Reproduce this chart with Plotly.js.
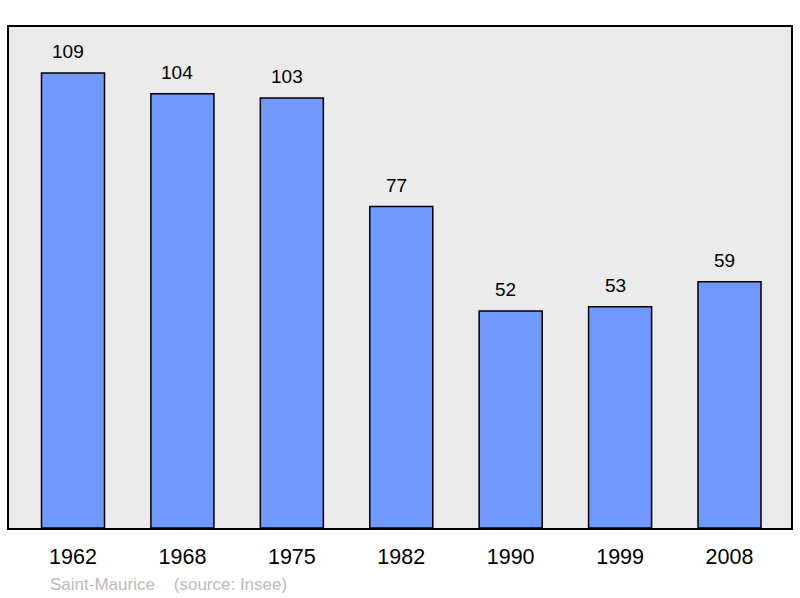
<!DOCTYPE html>
<html>
<head>
<meta charset="utf-8">
<script src="https://cdn.plot.ly/plotly-3.0.1.min.js"></script>
<style>html,body{margin:0;padding:0;background:#fff;}#chart{width:800px;height:598px;}</style>
</head>
<body>
<div id="chart"></div>
<script>
const years = ["1962", "1968", "1975", "1982", "1990", "1999", "2008"];
const population = [109, 104, 103, 77, 52, 53, 59];
const townName = "Saint-Maurice";
const sourceText = "(source: Insee)";

const trace = {
  type: 'bar',
  x: years,
  y: population,
  width: 0.576,
  marker: {color: '#7099ff', line: {color: '#000', width: 1.5}},
  hoverinfo: 'none'
};

const annotations = years.map((yr, i) => ({
  x: i, y: population[i], xref: 'x', yref: 'y',
  text: String(population[i]), showarrow: false,
  yanchor: 'bottom', yshift: 9, xshift: -5,
  font: {family: 'Liberation Sans, Arial, sans-serif', size: 19, color: '#000'}
}));
annotations.push({
  xref: 'paper', yref: 'paper', x: 39/782, y: -0.112,
  xanchor: 'left', yanchor: 'middle', showarrow: false,
  text: townName + '\u00a0\u00a0\u00a0\u00a0' + sourceText,
  font: {family: 'Liberation Sans, Arial, sans-serif', size: 17, color: '#bbbbbb'}
});

const layout = {
  width: 800, height: 598,
  margin: {l: 9, r: 9, t: 27, b: 70},
  paper_bgcolor: '#ffffff',
  plot_bgcolor: '#ebebeb',
  showlegend: false,
  xaxis: {
    type: 'category', range: [-0.585, 6.562],
    showline: true, mirror: true, linecolor: '#000', linewidth: 2,
    showgrid: false, zeroline: false, ticks: '',
    tickfont: {family: 'Liberation Sans, Arial, sans-serif', size: 21.5, color: '#000'},
    ticklabelstandoff: 8
  },
  yaxis: {
    range: [0, 120], showline: true, mirror: true, linecolor: '#000', linewidth: 2,
    showgrid: false, zeroline: false, showticklabels: false, ticks: ''
  },
  annotations: annotations
};

Plotly.newPlot('chart', [trace], layout, {staticPlot: true, displayModeBar: false});
</script>
</body>
</html>
